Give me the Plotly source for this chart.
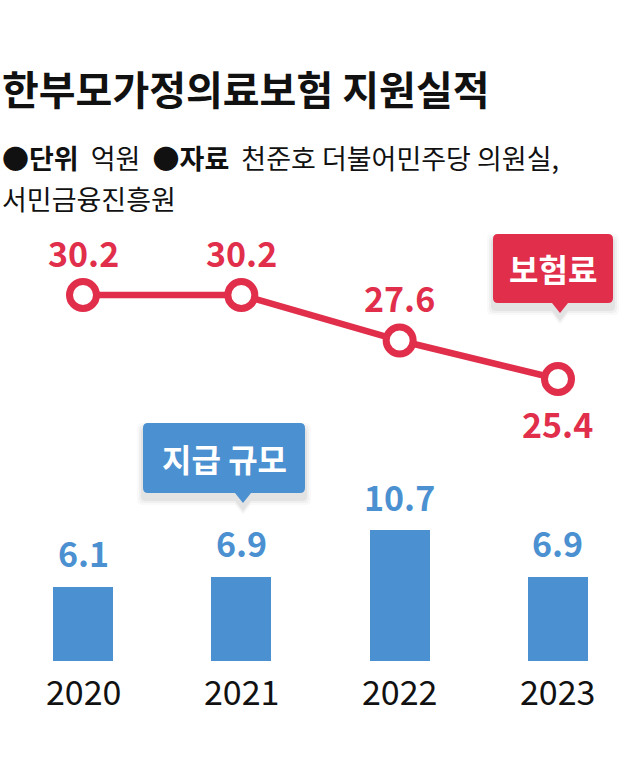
import plotly.graph_objects as go

# ---- data ----
years = ["2020", "2021", "2022", "2023"]
premium = [30.2, 30.2, 27.6, 25.4]          # 보험료 (line)
payout = [6.1, 6.9, 10.7, 6.9]              # 지급 규모 (bars)
premium_label_side = ["above", "above", "above", "below"]

title_text = "한부모가정의료보험 지원실적"
sub_line1 = "<b>●단위</b>\u00a0\u00a0억원\u00a0\u00a0<b>●자료</b>\u00a0\u00a0천준호 더불어민주당 의원실,"
sub_line2 = "서민금융진흥원"
callout_line = "보험료"
callout_bar = "지급 규모"

RED = "#E02E4B"
BLUE = "#4B90D0"
FONT = "Noto Sans CJK KR"
W, H = 640, 757


def X(px):
    return px / W


def Y(py):
    return 1 - py / H


def callout_path(x0, y0, x1, y1, r, tipx, tipy, hw, dx=0, dy=0, grow=0):
    x0 -= grow; x1 += grow; y0 -= grow; y1 += grow
    x0 += dx; x1 += dx; y0 += dy; y1 += dy
    tipx += dx; tipy += dy + grow
    def p(a, b):
        return f"{X(a):.5f},{Y(b):.5f}"
    return (f"M {p(x0 + r, y0)} L {p(x1 - r, y0)} Q {p(x1, y0)} {p(x1, y0 + r)} "
            f"L {p(x1, y1 - r)} Q {p(x1, y1)} {p(x1 - r, y1)} "
            f"L {p(tipx + hw, y1)} L {p(tipx, tipy)} L {p(tipx - hw, y1)} "
            f"L {p(x0 + r, y1)} Q {p(x0, y1)} {p(x0, y1 - r)} "
            f"L {p(x0, y0 + r)} Q {p(x0, y0)} {p(x0 + r, y0)} Z")


fig = go.Figure()
fig.add_trace(go.Bar(
    x=years, y=payout, marker=dict(color=BLUE, line=dict(width=0)),
    width=0.38, yaxis="y", hoverinfo="skip", showlegend=False))
fig.add_trace(go.Scatter(
    x=years, y=premium, yaxis="y2", mode="lines+markers",
    line=dict(color=RED, width=6.5),
    marker=dict(size=27, color="white", line=dict(color=RED, width=7)),
    hoverinfo="skip", showlegend=False))

annotations = []
# bar value labels (x given as category index)
for i, v in enumerate(payout):
    annotations.append(dict(
        x=i, y=v, xref="x", yref="y", text=f"{v}", showarrow=False,
        yanchor="middle", yshift=34,
        font=dict(family=FONT, size=34, color=BLUE, weight="bold")))
# line value labels
for i, (v, side) in enumerate(zip(premium, premium_label_side)):
    annotations.append(dict(
        x=i, y=v, xref="x", yref="y2", text=f"{v}", showarrow=False,
        yanchor="middle", yshift=43 if side == "above" else -44,
        font=dict(family=FONT, size=34, color=RED, weight="bold")))
# year labels
for i, yr in enumerate(years):
    annotations.append(dict(
        x=i, y=0, xref="x", yref="y", text=yr, showarrow=False,
        yanchor="middle", yshift=-29,
        font=dict(family=FONT, size=34, color="#111111")))

# title and subtitle
annotations.append(dict(
    x=0, y=Y(88), xref="paper", yref="paper", xanchor="left", yanchor="middle",
    text=f"<b>{title_text}</b>", showarrow=False,
    font=dict(family=FONT, size=40, color="#111111")))
annotations.append(dict(
    x=0, y=Y(157), xref="paper", yref="paper", xanchor="left", yanchor="middle",
    text=sub_line1, showarrow=False,
    font=dict(family=FONT, size=27, color="#111111")))
annotations.append(dict(
    x=0, y=Y(199), xref="paper", yref="paper", xanchor="left", yanchor="middle",
    text=sub_line2, showarrow=False,
    font=dict(family=FONT, size=27, color="#111111")))

# callout texts
annotations.append(dict(
    x=X(553), y=Y(268), xref="paper", yref="paper", xanchor="center", yanchor="middle",
    text=f"<b>{callout_line}</b>", showarrow=False,
    font=dict(family=FONT, size=32, color="white")))
annotations.append(dict(
    x=X(224), y=Y(458), xref="paper", yref="paper", xanchor="center", yanchor="middle",
    text=f"<b>{callout_bar}</b>", showarrow=False,
    font=dict(family=FONT, size=32, color="white")))

shapes = []
boxes = [
    (493, 234, 613, 303, 560, 313, RED),
    (143, 423, 305, 493, 243, 503, BLUE),
]
for (x0, y0, x1, y1, tx, ty, col) in boxes:
    for g, a in [(6, 0.025), (4, 0.035), (2, 0.05)]:
        shapes.append(dict(type="path", xref="paper", yref="paper",
                           path=callout_path(x0, y0, x1, y1, 5, tx, ty, 8, dx=0, dy=6, grow=g),
                           fillcolor=f"rgba(0,0,0,{a})", line=dict(width=0), layer="below"))
    shapes.append(dict(type="path", xref="paper", yref="paper",
                       path=callout_path(x0, y0, x1, y1, 5, tx, ty, 8),
                       fillcolor=col, line=dict(width=0), layer="above"))

# axis scales (pixels per unit) -> ranges
bar_ppu = 12.2
bar_zero_px = 661
y_r0 = -(H - bar_zero_px) / bar_ppu
y_r1 = y_r0 + H / bar_ppu

line_ppu = 17.5
line_ref_px = 295
y2_r0 = premium[0] - (H - line_ref_px) / line_ppu
y2_r1 = y2_r0 + H / line_ppu

x_ppu = 158.33
x_r0 = -83 / x_ppu
x_r1 = x_r0 + W / x_ppu

fig.update_layout(
    width=W, height=H,
    margin=dict(l=0, r=0, t=0, b=0),
    paper_bgcolor="white", plot_bgcolor="white",
    showlegend=False,
    xaxis=dict(type="category", range=[x_r0, x_r1], showticklabels=False, showgrid=False,
               zeroline=False, showline=False, fixedrange=True),
    yaxis=dict(range=[y_r0, y_r1], visible=False, fixedrange=True),
    yaxis2=dict(range=[y2_r0, y2_r1], overlaying="y", visible=False, fixedrange=True),
    annotations=annotations,
    shapes=shapes,
    bargap=0,
)

fig.write_html("out.html", config={"displayModeBar": False},
               post_script="document.body.style.margin='0px';")
